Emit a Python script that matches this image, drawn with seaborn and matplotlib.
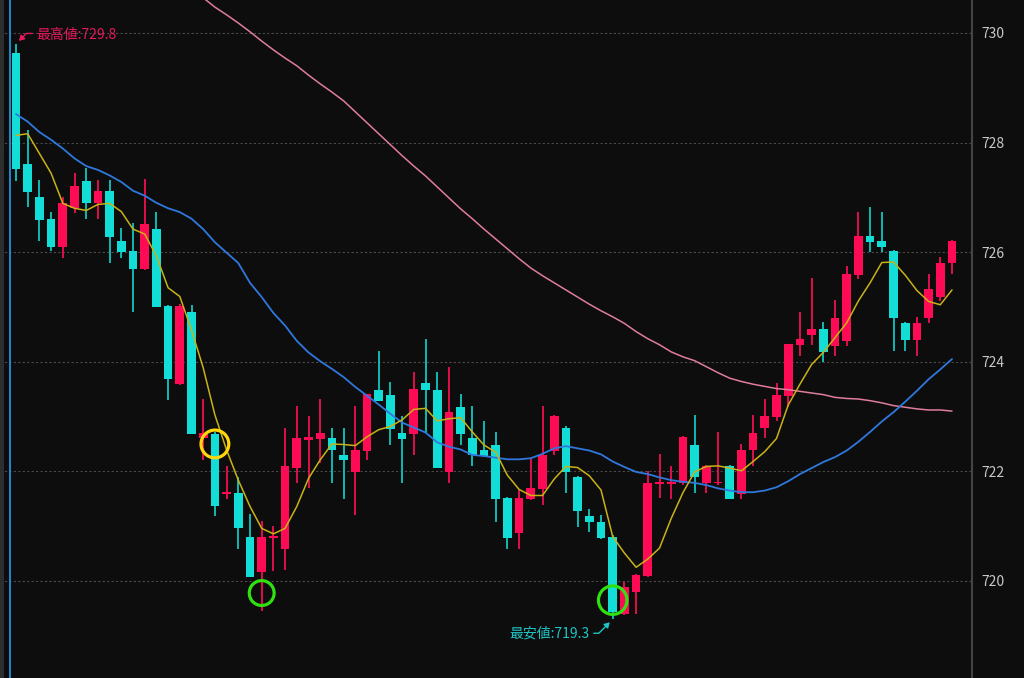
import numpy as np
import pandas as pd
import matplotlib.pyplot as plt
from matplotlib.lines import Line2D
from matplotlib.patches import Rectangle
import seaborn as sns

# Theme first, then the font list (set_theme resets font.family)
sns.set_theme(style="dark")
plt.rcParams['font.family'] = ['Noto Sans CJK JP', 'DejaVu Sans']

bg = '#0d0d0d'
up_col = '#ff0a55'
down_col = '#12ddd6'

# OHLC, one entry per candle
opens = [729.63, 727.61, 727.00, 726.60, 726.10, 726.80, 727.30, 726.89, 727.12, 726.21,
         726.02, 725.70, 726.42, 725.02, 723.59, 724.90, 722.60, 722.69, 721.58, 721.60,
         720.81, 720.17, 720.78, 720.58, 722.07, 722.58, 722.59, 722.60, 722.30, 721.98,
         722.38, 723.49, 723.40, 722.70, 722.68, 723.61, 723.49, 721.98, 723.18, 722.60,
         722.39, 722.48, 721.51, 720.88, 721.49, 721.67, 722.37, 722.80, 721.90, 721.19,
         721.08, 720.81, 719.40, 719.79, 720.09, 721.77, 721.77, 721.78, 722.49, 721.78,
         721.78, 722.10, 721.59, 722.39, 722.79, 723.00, 723.38, 724.30, 724.49, 724.59,
         724.29, 724.37, 725.58, 726.30, 726.21, 726.02, 724.71, 724.39, 724.79, 725.19,
         725.80]
highs = [729.80, 728.23, 727.32, 726.73, 727.01, 727.44, 727.54, 727.32, 727.32, 726.44,
         726.53, 727.33, 726.73, 725.04, 725.05, 725.04, 723.32, 722.72, 722.10, 721.90,
         721.22, 721.10, 721.00, 722.80, 723.19, 723.01, 723.32, 722.80, 722.80, 723.19,
         723.41, 724.20, 723.63, 723.01, 723.81, 724.42, 723.81, 723.90, 723.41, 723.19,
         722.92, 722.71, 721.53, 721.66, 722.22, 723.20, 723.03, 722.82, 721.92, 721.31,
         721.20, 720.83, 719.99, 720.13, 722.00, 722.31, 722.10, 722.64, 723.02, 722.12,
         722.72, 722.12, 722.50, 723.02, 723.32, 723.62, 724.33, 724.91, 725.52, 724.72,
         725.13, 725.74, 726.73, 726.83, 726.73, 726.04, 724.73, 724.81, 725.61, 725.92,
         726.23]
lows = [727.30, 726.82, 726.20, 726.02, 725.90, 726.72, 726.60, 726.60, 725.81, 725.89,
        724.90, 725.68, 725.00, 723.30, 723.58, 722.68, 722.21, 721.19, 721.49, 720.58,
        720.08, 719.45, 720.19, 720.20, 721.78, 721.69, 722.16, 721.79, 721.50, 721.20,
        722.20, 723.29, 722.48, 721.78, 722.30, 722.70, 722.07, 721.78, 722.48, 722.09,
        722.26, 721.07, 720.58, 720.58, 721.47, 721.39, 722.30, 721.60, 720.99, 720.89,
        720.77, 719.30, 719.38, 719.40, 720.07, 721.51, 721.49, 721.76, 721.60, 721.60,
        721.76, 721.49, 721.49, 722.09, 722.60, 722.91, 723.18, 724.11, 724.31, 724.00,
        724.11, 724.29, 725.51, 726.01, 726.01, 724.20, 724.20, 724.11, 724.70, 725.10,
        725.60]
closes = [727.51, 727.10, 726.59, 726.10, 726.90, 727.21, 726.89, 727.12, 726.28, 726.00,
          725.70, 726.51, 725.00, 723.69, 725.02, 722.68, 722.70, 721.37, 721.62, 720.97,
          720.08, 720.81, 720.82, 722.09, 722.60, 722.62, 722.70, 722.39, 722.20, 722.39,
          723.41, 723.29, 722.78, 722.59, 723.50, 723.48, 722.07, 723.09, 722.68, 722.30,
          722.28, 721.49, 720.79, 721.51, 721.69, 722.30, 723.01, 721.98, 721.28, 721.07,
          720.79, 719.44, 719.89, 720.11, 721.78, 721.79, 721.79, 722.62, 721.89, 722.10,
          721.80, 721.49, 722.39, 722.70, 723.01, 723.39, 724.32, 724.41, 724.59, 724.18,
          724.80, 725.60, 726.30, 726.19, 726.10, 724.79, 724.39, 724.71, 725.32, 725.81,
          726.21]

# Moving average lines as drawn on the chart
ma_short = [728.13, 728.16, 727.80, 727.44, 726.89, 726.80, 726.76, 726.87, 726.89, 726.74,
            726.42, 726.33, 725.93, 725.35, 725.19, 724.58, 723.89, 723.03, 722.39, 721.84,
            721.36, 720.96, 720.86, 720.96, 721.36, 721.87, 722.21, 722.50, 722.49, 722.47,
            722.63, 722.76, 722.82, 722.94, 723.13, 723.15, 722.92, 722.96, 722.98, 722.72,
            722.48, 722.35, 721.93, 721.67, 721.56, 721.56, 721.86, 722.09, 722.07, 721.92,
            721.66, 720.81, 720.51, 720.25, 720.40, 720.60, 721.14, 721.61, 721.99, 722.09,
            722.10, 722.06, 722.01, 722.18, 722.36, 722.60, 723.21, 723.59, 723.95, 724.17,
            724.44, 724.71, 725.11, 725.44, 725.81, 725.82, 725.58, 725.30, 725.10, 725.04,
            725.31]
ma_mid = [728.52, 728.38, 728.19, 728.05, 727.89, 727.71, 727.57, 727.50, 727.40, 727.28,
          727.12, 727.03, 726.90, 726.80, 726.73, 726.61, 726.42, 726.18, 725.99, 725.80,
          725.44, 725.18, 724.89, 724.66, 724.38, 724.17, 724.01, 723.87, 723.72, 723.54,
          723.38, 723.22, 723.05, 722.89, 722.80, 722.71, 722.53, 722.45, 722.40, 722.30,
          722.28, 722.25, 722.22, 722.22, 722.24, 722.32, 722.42, 722.46, 722.42, 722.38,
          722.31, 722.18, 722.08, 721.99, 721.95, 721.89, 721.84, 721.81, 721.79, 721.75,
          721.69, 721.65, 721.62, 721.62, 721.65, 721.71, 721.82, 721.95, 722.06, 722.17,
          722.26, 722.38, 722.54, 722.72, 722.91, 723.08, 723.27, 723.47, 723.68, 723.86,
          724.05]
ma_long = [np.nan] * 15 + [
    730.78, 730.64, 730.47, 730.33, 730.18, 730.02, 729.85, 729.69, 729.54, 729.40,
    729.23, 729.07, 728.92, 728.76, 728.56, 728.36, 728.16, 727.96, 727.76, 727.57,
    727.39, 727.19, 726.99, 726.79, 726.61, 726.42, 726.24, 726.06, 725.88, 725.71,
    725.57, 725.44, 725.31, 725.18, 725.05, 724.93, 724.82, 724.70, 724.55, 724.42,
    724.31, 724.18, 724.09, 724.02, 723.91, 723.80, 723.70, 723.64, 723.59, 723.55,
    723.51, 723.49, 723.46, 723.43, 723.40, 723.35, 723.33, 723.32, 723.29, 723.25,
    723.20, 723.17, 723.14, 723.12, 723.12, 723.10]

price_ticks = [720, 722, 724, 726, 728, 730]

df = pd.DataFrame({'open': opens, 'high': highs, 'low': lows, 'close': closes,
                   'ma_short': ma_short, 'ma_mid': ma_mid, 'ma_long': ma_long})
df['i'] = np.arange(len(df))
rising = df['close'] >= df['open']

fig = plt.figure(figsize=(10.24, 6.78), dpi=100, facecolor=bg)
ax = fig.add_axes([0, 0, 972 / 1024, 1])
ax.set_facecolor(bg)

# wicks and bodies
wick_cols = np.where(rising, '#e0104c', '#10b9b3')
ax.vlines(df['i'], df['low'], df['high'], colors=wick_cols, lw=1.4, zorder=2)
body = (df['close'] - df['open']).abs().clip(lower=0.035)
ax.bar(df['i'], body, bottom=df[['open', 'close']].min(axis=1), width=0.75,
       color=np.where(rising, up_col, down_col), lw=0, zorder=2.5)

# moving averages
sns.lineplot(data=df, x='i', y='ma_long', ax=ax, color='#e07d9b', lw=1.1, zorder=3)
sns.lineplot(data=df, x='i', y='ma_mid', ax=ax, color='#2f78dd', lw=1.3, zorder=3)
sns.lineplot(data=df, x='i', y='ma_short', ax=ax, color='#c9b216', lw=1.1, zorder=3)

# highlight circles (candle index, price, colour, size)
marks = [(17, 722.50, '#ffd60a', 400), (21, 719.78, '#30e010', 320), (51, 719.65, '#30e010', 420)]
for mi, mp, mc, ms in marks:
    ax.scatter([mi], [mp], s=ms, facecolors='none', edgecolors=mc, linewidths=2.3, zorder=5)

# highest / lowest labels
hi_i = int(df['high'].idxmax())
lo_i = int(df['low'].idxmin())
ax.annotate(f"最高値:{df['high'][hi_i]:.1f}", xy=(hi_i, df['high'][hi_i]), xytext=(15, 6.5),
            textcoords='offset points', ha='left', va='center', fontsize=10, color='#e8185c',
            arrowprops=dict(arrowstyle='-|>,head_length=0.3,head_width=0.18', color='#e8185c', lw=1,
                            connectionstyle='angle,angleA=0,angleB=45,rad=0',
                            relpos=(0, 0.6), shrinkA=1, shrinkB=3))
ax.annotate(f"最安値:{df['low'][lo_i]:.1f}", xy=(lo_i, df['low'][lo_i]), xytext=(-17, -10),
            textcoords='offset points', ha='right', va='center', fontsize=10, color='#1fc4c4',
            arrowprops=dict(arrowstyle='-|>,head_length=0.3,head_width=0.18', color='#1fc4c4', lw=1,
                            connectionstyle='angle,angleA=0,angleB=45,rad=0',
                            relpos=(1, 0.5), shrinkA=1, shrinkB=3))

# axes layout
ax.set_xlim(-16 / 11.7, 80 + 20 / 11.7)
ax.set_ylim(718.23, 730.60)
ax.set_xticks([])
ax.set_yticks(price_ticks)
ax.yaxis.tick_right()
ax.tick_params(axis='y', length=0, pad=6.5, labelsize=10, labelcolor='#c8c8c8')
ax.set_xlabel('')
ax.set_ylabel('')
ax.grid(axis='y', color='#4a4a4a', linestyle=(0, (2, 2)), lw=0.8)
ax.grid(axis='x', visible=False)
for side in ['left', 'top', 'bottom']:
    ax.spines[side].set_visible(False)
ax.spines['right'].set_color('#444444')
ax.spines['right'].set_linewidth(1.5)

# left edge strip and blue marker line
fig.add_artist(Rectangle((0, 0), 4 / 1024, 1, transform=fig.transFigure, color='#2e2e2e', lw=0))
fig.add_artist(Line2D([10 / 1024, 10 / 1024], [0, 1], transform=fig.transFigure, color='#1f8ad0', lw=1.4))

fig.savefig('out.png', dpi=100, facecolor=bg)
